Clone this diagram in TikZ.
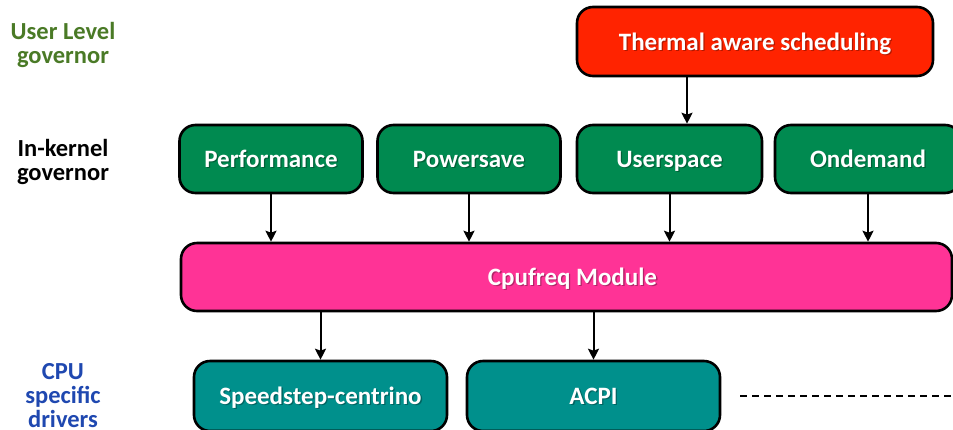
\documentclass[tikz,border=0pt]{standalone}
\usepackage{fontspec}
\setmainfont{Carlito}
\usetikzlibrary{arrows.meta,calc}
\definecolor{thermred}{HTML}{FF2300}
\definecolor{govgreen}{HTML}{008A50}
\definecolor{freqpink}{HTML}{FF3396}
\definecolor{drvteal}{HTML}{00908C}
\definecolor{ulgreen}{HTML}{4A7A26}
\definecolor{drvblue}{HTML}{1F48B0}
\tikzset{
  box/.style={draw=black, line width=2.6pt, rounded corners=16pt, inner sep=0pt},
  lab/.style={align=center, font=\fontsize{24.5}{24}\selectfont\bfseries},
  boxtext/.style={font=\fontsize{25}{30}\selectfont\bfseries, text height=20pt, text depth=3pt, inner sep=0pt},
  link/.style={line width=2pt, -{Stealth[length=11pt,width=11pt,inset=2pt]}}
}
\newcommand{\shadowtext}[2]{%
  \node[boxtext, text=black, opacity=0.3] at ([xshift=1.3pt,yshift=-1.3pt]#1) {#2};
  \node[boxtext, text=white] at (#1) {#2};}
\begin{document}
\begin{tikzpicture}[x=1pt,y=-1pt]
  \useasboundingbox (0,0) rectangle (953,429);
  \clip (0,0) rectangle (953,429);
  % side labels
  \node[lab, text=ulgreen] (lul) at (63,45) {User Level\\governor};
  \node[lab, text=black] (lik) at (63,162) {In-kernel\\governor};
  \node[lab, text=drvblue] (lcpu) at (63,396) {CPU\\specific\\drivers};
  % boxes
  \node[box, fill=thermred, minimum width=356pt, minimum height=69pt] (thermal) at (755,41.5) {};
  \node[box, fill=govgreen, minimum width=183pt, minimum height=68pt] (perf) at (271,159) {};
  \node[box, fill=govgreen, minimum width=183pt, minimum height=68pt] (psave) at (469,159) {};
  \node[box, fill=govgreen, minimum width=185pt, minimum height=68pt] (uspace) at (669.5,159) {};
  \node[box, fill=govgreen, minimum width=186pt, minimum height=68pt] (ondem) at (868,159) {};
  \node[box, fill=freqpink, minimum width=771pt, minimum height=68pt] (cpufreq) at (566.5,277) {};
  \node[box, fill=drvteal, minimum width=253pt, minimum height=70pt] (speed) at (320.5,396) {};
  \node[box, fill=drvteal, minimum width=253pt, minimum height=70pt] (acpi) at (593.5,396) {};
  % box texts
  \shadowtext{thermal.center}{Thermal aware scheduling}
  \shadowtext{perf.center}{Performance}
  \shadowtext{psave.center}{Powersave}
  \shadowtext{uspace.center}{Userspace}
  \shadowtext{ondem.center}{Ondemand}
  \shadowtext{$(cpufreq.center)+(6,0)$}{Cpufreq Module}
  \shadowtext{speed.center}{Speedstep-centrino}
  \shadowtext{acpi.center}{ACPI}
  % connectors
  \coordinate (tarr) at ([xshift=-68pt]thermal.south);
  \draw[link] (tarr) -- (tarr |- uspace.north);
  \draw[link] (perf.south) -- (perf.south |- cpufreq.north);
  \draw[link] (psave.south) -- (psave.south |- cpufreq.north);
  \draw[link] (uspace.south) -- (uspace.south |- cpufreq.north);
  \draw[link] (ondem.south) -- (ondem.south |- cpufreq.north);
  \draw[link] (cpufreq.south -| speed.north) -- (speed.north);
  \draw[link] (cpufreq.south -| acpi.north) -- (acpi.north);
  \coordinate (dashend) at (953,396);
  \draw[line width=2pt, dash pattern=on 7pt off 5pt] ([xshift=19pt]acpi.east) -- (dashend);
\end{tikzpicture}
\end{document}
